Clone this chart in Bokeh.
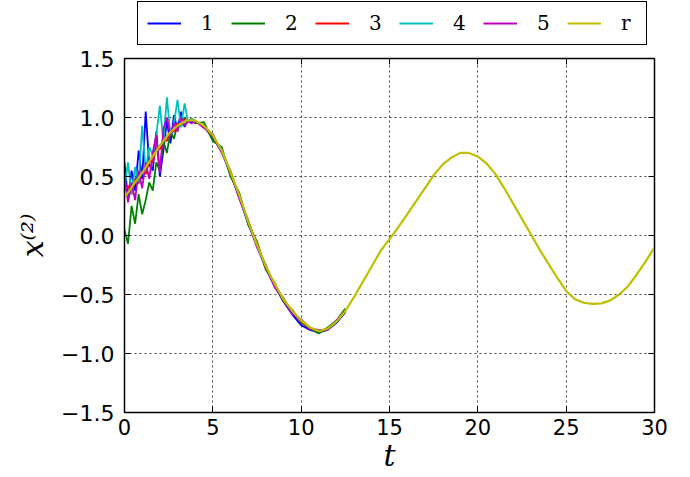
from bokeh.plotting import figure
from bokeh.models import Legend, LegendItem, LinearAxis, FixedTicker, Range1d
from bokeh.layouts import column
from bokeh.embed import file_html
from bokeh.resources import INLINE

# ---------------- data ----------------
t_ref = [0.0, 0.5, 1.0, 1.5, 2.0, 2.5, 3.0, 3.5, 4.0, 4.5, 5.0, 5.5, 6.0, 6.5, 7.0, 7.5,
         8.0, 8.5, 9.0, 9.5, 10.0, 10.5, 11.0, 11.5, 12.0, 12.5, 13.0, 13.5, 14.0, 14.5,
         15.0, 15.5, 16.0, 16.5, 17.0, 17.5, 18.0, 18.5, 19.0, 19.5, 20.0, 20.5, 21.0,
         21.5, 22.0, 22.5, 23.0, 23.5, 24.0, 24.5, 25.0, 25.5, 26.0, 26.5, 27.0, 27.5,
         28.0, 28.5, 29.0, 29.5, 30.0]
r_ref = [0.32, 0.43, 0.53, 0.65, 0.76, 0.86, 0.93, 0.975, 0.975, 0.93, 0.85, 0.72, 0.54,
         0.34, 0.12, -0.08, -0.26, -0.41, -0.54, -0.64, -0.72, -0.78, -0.81, -0.79, -0.73,
         -0.64, -0.52, -0.39, -0.26, -0.13, -0.03, 0.07, 0.18, 0.29, 0.40, 0.51, 0.60, 0.66,
         0.70, 0.70, 0.67, 0.61, 0.52, 0.40, 0.27, 0.14, 0.01, -0.12, -0.24, -0.36, -0.47,
         -0.54, -0.57, -0.58, -0.575, -0.55, -0.50, -0.43, -0.33, -0.22, -0.10]

t_run = [0.0, 0.2, 0.4, 0.6, 0.8, 1.0, 1.2, 1.4, 1.6, 1.8, 2.0, 2.2, 2.4, 2.6, 2.8, 3.0,
         3.2, 3.4, 3.6, 3.8, 4.0,
         4.5, 5.0, 5.5, 6.0, 6.5, 7.0, 7.5, 8.0, 8.5, 9.0, 9.5, 10.0, 10.5, 11.0, 11.5,
         12.0, 12.5]
x_run1 = [0.62, 0.30, 0.55, 0.38, 0.72, 0.48, 1.05, 0.60, 0.55, 0.88, 0.50, 0.72, 0.97,
          0.78, 1.02, 0.90, 1.05, 0.92, 0.98, 0.96, 0.97,
          0.92, 0.83, 0.71, 0.52, 0.32, 0.10, -0.09, -0.28, -0.43, -0.56, -0.67, -0.76,
          -0.80, -0.82, -0.80, -0.74, -0.65]
x_run2 = [0.05, -0.07, 0.25, 0.10, 0.35, 0.18, 0.30, 0.45, 0.38, 0.62, 0.55, 0.80, 0.70,
          0.88, 0.82, 0.95, 0.92, 1.00, 0.96, 0.99, 0.95,
          0.96, 0.80, 0.75, 0.50, 0.36, 0.09, -0.05, -0.29, -0.40, -0.56, -0.63, -0.74,
          -0.79, -0.83, -0.78, -0.72, -0.62]
x_run3 = [0.38, 0.42, 0.35, 0.48, 0.44, 0.55, 0.52, 0.63, 0.62, 0.74, 0.73, 0.82, 0.80,
          0.90, 0.88, 0.95, 0.93, 0.98, 0.97, 0.99, 0.97,
          0.93, 0.84, 0.72, 0.53, 0.33, 0.12, -0.07, -0.27, -0.42, -0.55, -0.65, -0.73,
          -0.79, -0.81, -0.79, -0.73, -0.64]
x_run4 = [0.40, 0.62, 0.35, 0.58, 0.45, 0.93, 0.55, 0.75, 0.68, 0.85, 1.10, 0.80, 1.17,
          0.85, 0.95, 1.15, 0.92, 1.12, 0.96, 0.99, 0.97,
          0.93, 0.85, 0.72, 0.54, 0.33, 0.12, -0.08, -0.26, -0.42, -0.54, -0.65, -0.72,
          -0.78, -0.81, -0.79, -0.73, -0.64]
x_run5 = [0.50, 0.28, 0.45, 0.30, 0.55, 0.40, 0.62, 0.48, 0.70, 0.85, 0.53, 0.90, 1.00,
          0.85, 0.95, 0.88, 1.00, 0.93, 0.97, 0.95, 0.97,
          0.91, 0.86, 0.70, 0.55, 0.31, 0.13, -0.10, -0.25, -0.44, -0.53, -0.67, -0.71,
          -0.79, -0.80, -0.80, -0.72, -0.65]

series_labels = ["1", "2", "3", "4", "5", "r"]
series_colors = ["#0000ff", "#008000", "#ff0000", "#00bfbf", "#bf00bf", "#bfbf00"]

x_ticks = [0, 5, 10, 15, 20, 25, 30]
y_ticks = [-1.5, -1.0, -0.5, 0.0, 0.5, 1.0, 1.5]
y_tick_labels = ["\u22121.5", "\u22121.0", "\u22120.5", "0.0", "0.5", "1.0", "1.5"]

LEG_H = 46

# ---------------- main figure ----------------
p = figure(width=690, height=477 - LEG_H, output_backend="svg", toolbar_location=None,
           x_range=Range1d(0, 30), y_range=Range1d(-1.5, 1.5),
           min_border_left=124, min_border_right=36, min_border_top=58 - LEG_H,
           min_border_bottom=65)
p.background_fill_color = "white"
p.border_fill_color = "white"
p.outline_line_color = "black"
p.outline_line_width = 1.5

runs = [x_run1, x_run2, x_run3, x_run4, x_run5]
for ys, c in zip(runs, series_colors[:5]):
    p.line(t_run, ys, line_color=c, line_width=1.8)
p.line(t_ref, r_ref, line_color=series_colors[5], line_width=2.2)

for ax in p.xaxis:
    ax.ticker = FixedTicker(ticks=x_ticks)
for ax in p.yaxis:
    ax.ticker = FixedTicker(ticks=y_ticks)
    ax.major_label_overrides = {v: s for v, s in zip(y_ticks, y_tick_labels)}

for ax in p.xaxis + p.yaxis:
    ax.major_tick_in = 6
    ax.major_tick_out = 0
    ax.minor_tick_line_color = None
    ax.axis_line_color = "black"
    ax.major_tick_line_color = "black"
    ax.major_label_text_font = "DejaVu Sans"
    ax.major_label_text_font_size = "22px"
    ax.major_label_text_color = "black"
    ax.axis_label_text_font = "DejaVu Serif"
    ax.axis_label_text_font_style = "italic"
    ax.axis_label_text_font_size = "30px"
    ax.axis_label_text_color = "black"

p.xaxis.axis_label = "t"
p.xaxis.major_label_standoff = 6
p.xaxis.major_label_text_font_size = "21px"
p.xaxis.axis_label_standoff = 0
p.yaxis.axis_label = "x\u207d\u00b2\u207e"
p.yaxis.major_label_standoff = 10
p.yaxis.axis_label_standoff = 8

top_ax = LinearAxis(ticker=FixedTicker(ticks=x_ticks),
                    major_label_overrides={v: "" for v in x_ticks},
                    major_tick_in=6, major_tick_out=0, minor_tick_line_color=None,
                    major_label_standoff=0, axis_line_color="black")
right_ax = LinearAxis(ticker=FixedTicker(ticks=y_ticks),
                      major_label_overrides={v: "" for v in y_ticks},
                      major_tick_in=6, major_tick_out=0, minor_tick_line_color=None,
                      major_label_standoff=0, axis_line_color="black")
p.add_layout(top_ax, "above")
p.add_layout(right_ax, "right")

p.grid.grid_line_color = "#444444"
p.grid.grid_line_dash = "2 3"
p.grid.grid_line_width = 1
p.xgrid.ticker = FixedTicker(ticks=x_ticks)
p.ygrid.ticker = FixedTicker(ticks=y_ticks)

# ---------------- legend strip above ----------------
lf = figure(width=690, height=LEG_H, output_backend="svg", toolbar_location=None,
            x_range=Range1d(0, 1), y_range=Range1d(0, 1),
            x_axis_type=None, y_axis_type=None,
            min_border_left=0, min_border_right=0, min_border_top=0, min_border_bottom=0)
lf.outline_line_color = None
lf.grid.visible = False
lf.background_fill_color = "white"
lf.border_fill_color = "white"
# legend samples only: the data sit outside the strip's visible range
leg_renderers = [lf.line([5, 6], [5, 6], line_color=c, line_width=1.8) for c in series_colors]

legend = Legend(items=[LegendItem(label=l, renderers=[r]) for l, r in zip(series_labels, leg_renderers)],
                orientation="horizontal", location=(13, 1),
                glyph_width=34, glyph_height=20, label_standoff=20, label_width=16,
                spacing=14, padding=9, margin=0,
                border_line_color="black", border_line_width=1.5, border_line_alpha=1.0,
                label_text_font="DejaVu Serif", label_text_font_size="20px",
                label_text_color="black", background_fill_color="white",
                background_fill_alpha=1)
lf.add_layout(legend, "center")

open("out.html", "w").write(file_html(column(lf, p, spacing=0), INLINE))
